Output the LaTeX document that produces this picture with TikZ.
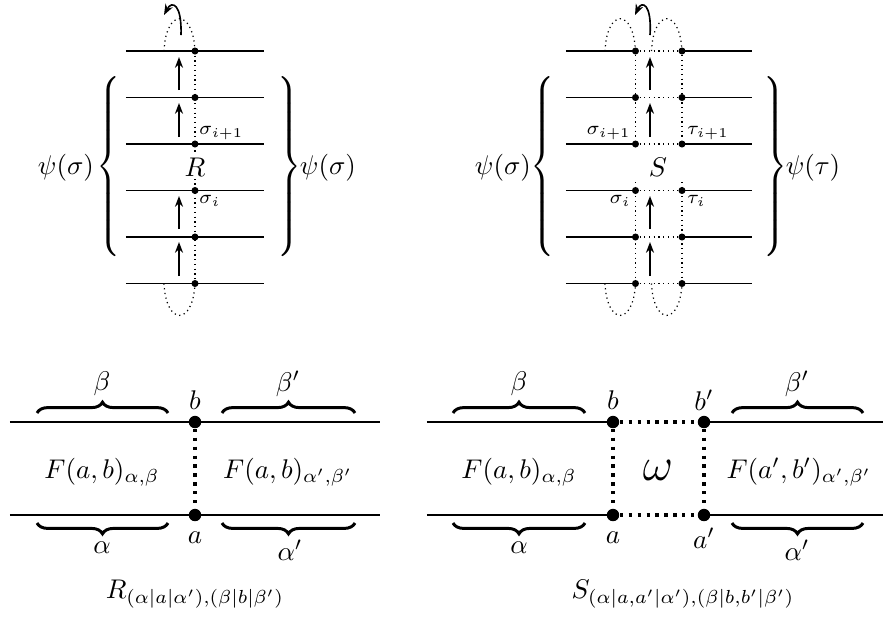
\documentclass[tikz,border=0pt]{standalone}
\usepackage{graphicx}
\usetikzlibrary{decorations.pathreplacing,arrows.meta}
\newcommand{\lbrc}{\resizebox*{\width}{68pt}{\nulldelimiterspace=0pt$\left\{\vrule height 33pt depth 28pt width 0pt\right.$}}
\newcommand{\rbrc}{\resizebox*{\width}{68pt}{\nulldelimiterspace=0pt$\left.\vrule height 33pt depth 28pt width 0pt\right\}$}}
\begin{document}
\begin{tikzpicture}[x=0.37pt,y=-0.37pt,
  strand/.style={line width=0.6pt},
  thinpt/.style={circle,fill=black,inner sep=0pt,minimum size=2.6pt},
  fdot/.style={line width=0.45pt,dash pattern=on 0.45pt off 1.3pt},
  uarr/.style={-{Stealth[length=4pt,width=3pt]},line width=0.6pt},
  bigline/.style={line width=1.1pt},
  bigpt/.style={circle,fill=black,inner sep=0pt,minimum size=4.6pt},
  bdot/.style={line width=1.2pt,dash pattern=on 1.2pt off 2.1pt},
  hbrace/.style={decorate,decoration={brace,amplitude=4pt},line width=1.1pt},
  small/.style={font=\scriptsize,inner sep=1pt},
  lbl/.style={inner sep=1pt},
  vbrace/.style={inner sep=0pt}
]
\useasboundingbox (0,0) rectangle (883,616);

% ---------------- R diagram ----------------
\foreach \i/\y in {1/51,2/97.5,3/144,4/190.5,5/237,6/283.5} {
  \coordinate (Rl\i) at (126,\y);
  \coordinate (Rr\i) at (264,\y);
  \node[thinpt] (R\i) at (195,\y) {};
}
\draw[fdot] (R1.center) -- (R6.center);
\foreach \i in {1,...,6} \draw[strand] (Rl\i) -- (Rr\i);
\node[fill=white,inner sep=1pt] (Rlab) at (195,167) {$R$};
\foreach \a/\b in {90/57,137/103,229/196,276/242} \draw[uarr] (179,\a) -- (179,\b);
\coordinate (Rtop) at (164,51);
\coordinate (Rbot) at (164,283.5);
\draw[fdot] (Rtop) .. controls (166,8) and (193,8) .. (R1.center);
\draw[fdot] (Rbot) .. controls (166,326) and (193,326) .. (R6.center);
\draw[uarr] (181,35) .. controls (182,4) and (172,0) .. (164,15);
\node[small,anchor=south west] (Rs1) at (196,143) {$\sigma_{i+1}$};
\node[small,anchor=north west] (Rs0) at (196,192) {$\sigma_i$};
\node[vbrace,anchor=east] (RbL) at (121,166.5) {\lbrc};
\node[vbrace,anchor=west] (RbR) at (277,166.5) {\rbrc};
\node[lbl] (Rpl) at (66,168) {$\psi(\sigma)$};
\node[lbl] (Rpr) at (328,168) {$\psi(\sigma)$};

% ---------------- S diagram ----------------
\foreach \i/\y in {1/51,2/97.5,3/144,4/190.5,5/237,6/283.5} {
  \coordinate (Sl\i) at (566,\y);
  \coordinate (Sr\i) at (752,\y);
  \node[thinpt] (Sa\i) at (635.5,\y) {};
  \node[thinpt] (Sb\i) at (682,\y) {};
}
\foreach \i in {1,...,6} {
  \draw[strand] (Sl\i) -- (Sa\i.center);
  \draw[strand] (Sb\i.center) -- (Sr\i);
  \draw[fdot] (Sa\i) -- (Sb\i);
}
\coordinate (Sam) at (635.5,182);
\coordinate (Sbm) at (682,182);
\draw[fdot] (Sa1) -- (Sa3);
\draw[fdot] (Sam) -- (Sa6);
\draw[fdot] (Sb1) -- (Sb3);
\draw[fdot] (Sbm) -- (Sb6);
\foreach \a/\b in {90/57,137/103,229/196,276/242} \draw[uarr] (650,\a) -- (650,\b);
\coordinate (Stl) at (605,51);
\coordinate (Str) at (651.5,51);
\coordinate (Sbl) at (605,283.5);
\coordinate (Sbr) at (651.5,283.5);
\draw[fdot] (Stl) .. controls (607,8) and (633.5,8) .. (Sa1.center);
\draw[fdot] (Str) .. controls (653.5,8) and (680,8) .. (Sb1.center);
\draw[fdot] (Sbl) .. controls (607,326) and (633.5,326) .. (Sa6.center);
\draw[fdot] (Sbr) .. controls (653.5,326) and (680,326) .. (Sb6.center);
\draw[uarr] (650,35) .. controls (652,4) and (642,0) .. (635,15);
\node (Slab) at (658,167) {$S$};
\node[small,anchor=south east] (Ss1) at (634,143) {$\sigma_{i+1}$};
\node[small,anchor=south west] (St1) at (684,143) {$\tau_{i+1}$};
\node[small,anchor=north east] (Ss0) at (634,192) {$\sigma_i$};
\node[small,anchor=north west] (St0) at (684,192) {$\tau_i$};
\node[vbrace,anchor=east] (SbL) at (555,166.5) {\lbrc};
\node[vbrace,anchor=west] (SbR) at (763,166.5) {\rbrc};
\node[lbl] (Spl) at (503,168) {$\psi(\sigma)$};
\node[lbl] (Spr) at (813,168) {$\psi(\tau)$};

% ---------------- bottom left ----------------
\coordinate (BLt1) at (10,422);
\coordinate (BLt2) at (380,422);
\coordinate (BLb1) at (10,515);
\coordinate (BLb2) at (380,515);
\node[bigpt] (Lb) at (195,422) {};
\node[bigpt] (La) at (195,515) {};
\draw[bigline] (BLt1) -- (BLt2);
\draw[bigline] (BLb1) -- (BLb2);
\draw[bdot] (Lb) -- (La);
\draw[hbrace] (37,413) -- (168,413);
\draw[hbrace] (222,413) -- (355,413);
\draw[hbrace] (168,523) -- (37,523);
\draw[hbrace] (355,523) -- (222,523);
\node[lbl] at (102,384) {$\beta$};
\node[lbl] at (288,384) {$\beta'$};
\node[lbl] at (195,400) {$b$};
\node[lbl] at (195,538) {$a$};
\node[lbl] at (102,548) {$\alpha$};
\node[lbl] at (290,550) {$\alpha'$};
\node[lbl] at (102,472) {$F(a,b)_{\alpha,\beta}$};
\node[lbl] at (288,472) {$F(a,b)_{\alpha',\beta'}$};
\node[lbl] at (195,594) {$R_{(\alpha|a|\alpha'),(\beta|b|\beta')}$};

% ---------------- bottom right ----------------
\coordinate (BRt1) at (427,422);
\coordinate (BRt2) at (883,422);
\coordinate (BRb1) at (427,515);
\coordinate (BRb2) at (883,515);
\node[bigpt] (Rb1) at (613,422) {};
\node[bigpt] (Rb2) at (704,422) {};
\node[bigpt] (Ra1) at (613,515) {};
\node[bigpt] (Ra2) at (704,515) {};
\draw[bigline] (BRt1) -- (Rb1.center);
\draw[bigline] (Rb2.center) -- (BRt2);
\draw[bigline] (BRb1) -- (Ra1.center);
\draw[bigline] (Ra2.center) -- (BRb2);
\draw[bdot] (Rb1) -- (Rb2);
\draw[bdot] (Ra1) -- (Ra2);
\draw[bdot] (Rb1) -- (Ra1);
\draw[bdot] (Rb2) -- (Ra2);
\draw[hbrace] (453,413) -- (585,413);
\draw[hbrace] (732,413) -- (863,413);
\draw[hbrace] (585,523) -- (453,523);
\draw[hbrace] (863,523) -- (732,523);
\node[lbl] at (519,384) {$\beta$};
\node[lbl] at (797,384) {$\beta'$};
\node[lbl] at (613,400) {$b$};
\node[lbl] at (704,400) {$b'$};
\node[lbl] at (613,538) {$a$};
\node[lbl] at (704,538) {$a'$};
\node[lbl] at (519,548) {$\alpha$};
\node[lbl] at (797,550) {$\alpha'$};
\node[lbl] at (519,472) {$F(a,b)_{\alpha,\beta}$};
\node[lbl] at (658,470) {\LARGE$\omega$};
\node[lbl] at (799,472) {$F(a',b')_{\alpha',\beta'}$};
\node[lbl] at (683,594) {$S_{(\alpha|a,a'|\alpha'),(\beta|b,b'|\beta')}$};
\end{tikzpicture}
\end{document}
